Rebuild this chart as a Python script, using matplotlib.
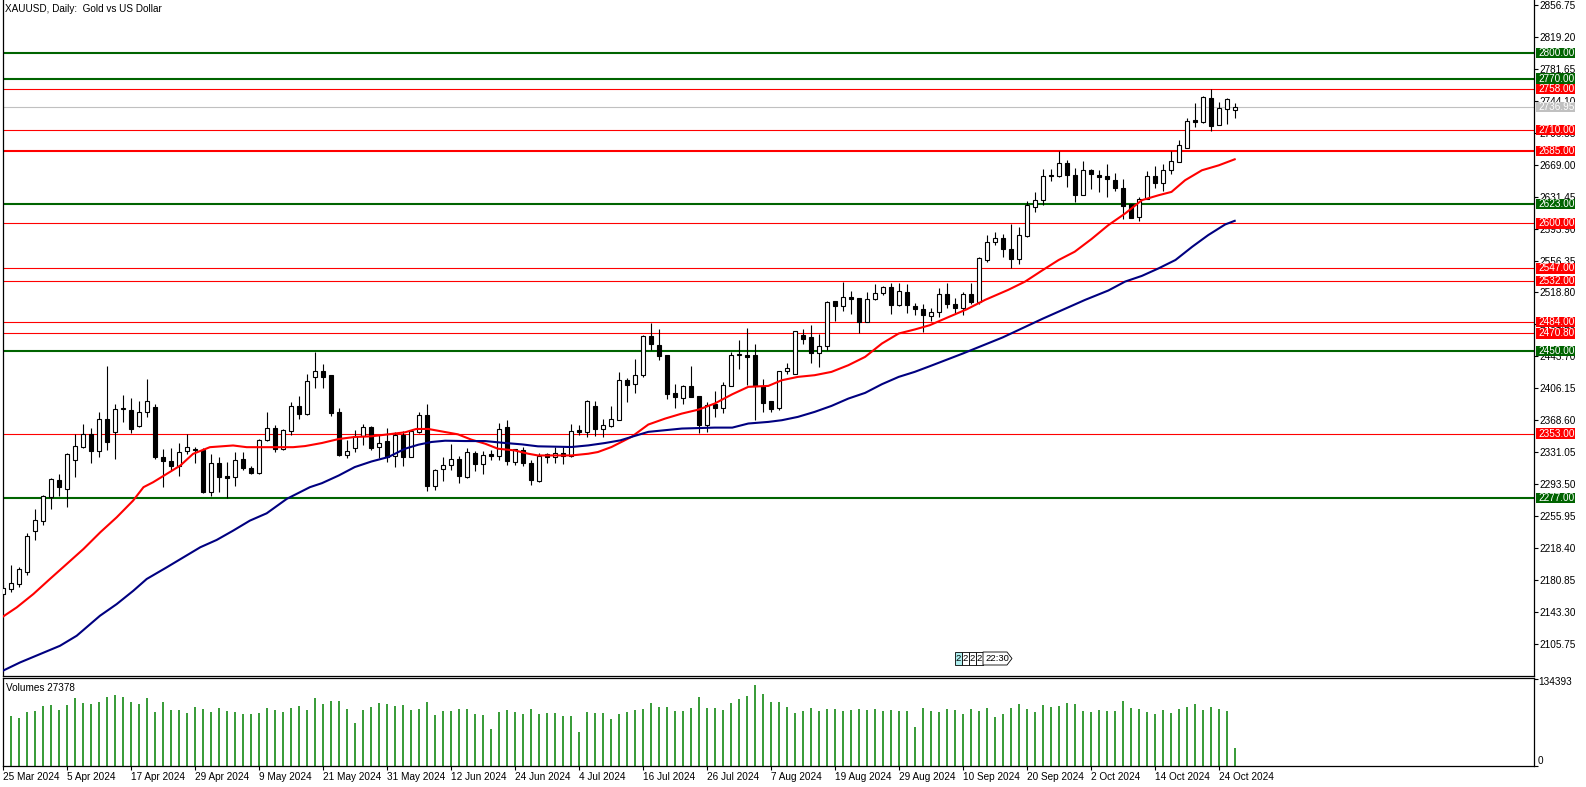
import matplotlib.pyplot as plt
from matplotlib.patches import Rectangle, Polygon
import matplotlib.transforms as mtransforms

plt.rcParams['font.family'] = ['Liberation Sans', 'DejaVu Sans']

# ---- data (daily bars, 25 Mar 2024 .. 28 Oct 2024) ----
opens = [2165, 2170.3, 2176.2, 2189.9, 2238.2, 2249.9, 2278.6, 2298.6, 2288.0, 2322.1,
         2337.0, 2351.9, 2332.3, 2370.4, 2355.1, 2382.0, 2380.9, 2362.1, 2377.8, 2384.5,
         2325.6, 2320.5, 2315.1, 2332.3, 2335.0, 2333.9, 2284.1, 2318.6, 2303.3, 2301.7,
         2323.3, 2313.1, 2306.4, 2345.6, 2359.8, 2335.1, 2355.8, 2384.9, 2376.5, 2418.9,
         2426.4, 2421.3, 2378.8, 2327.7, 2336.4, 2350.5, 2360.4, 2337.2, 2343.9, 2326.6,
         2350.9, 2325.4, 2354.8, 2375.3, 2291.2, 2311.6, 2316.3, 2323.4, 2301.8, 2330.5,
         2317.5, 2328.5, 2326.9, 2360.4, 2319.5, 2333.6, 2318.7, 2296.7, 2329.3, 2325.4,
         2330.5, 2326.6, 2356.8, 2354.8, 2385.1, 2358.8, 2361.9, 2369.4, 2415.7, 2411.8,
         2421.6, 2467.4, 2457.6, 2445.1, 2401.2, 2395.3, 2408.6, 2396.9, 2363.6, 2388.3,
         2383.6, 2409.0, 2445.5, 2445.9, 2445.1, 2409.0, 2391.0, 2383.2, 2427.1, 2423.5,
         2469.4, 2465.9, 2447.1, 2456.1, 2508.6, 2503.1, 2512.9, 2512.1, 2484.3, 2511.7,
         2517.6, 2524.7, 2503.5, 2519.9, 2502.7, 2499.9, 2491.7, 2496.0, 2516.8, 2505.0,
         2500.0, 2516.8, 2508.0, 2557.0, 2578.4, 2582.3, 2569.9, 2557.8, 2585.1, 2619.4,
         2628.0, 2657.3, 2655.7, 2671.3, 2657.3, 2633.9, 2663.1, 2657.3, 2656.1, 2650.7,
         2642.1, 2622.6, 2607.0, 2629.2, 2656.1, 2647.5, 2662.4, 2672.5, 2688.5, 2720.9,
         2718.6, 2747.5, 2715.8, 2734.6, 2733.8]
highs = [2175, 2198.5, 2196.6, 2235.8, 2264.4, 2280.9, 2300.2, 2304.9, 2329.6, 2351.9,
         2364.5, 2359.8, 2377.8, 2431.9, 2387.2, 2397.8, 2395.1, 2391.2, 2417.4, 2388.0,
         2335.1, 2336.2, 2341.7, 2351.9, 2337.0, 2335.5, 2328.4, 2326.0, 2320.1, 2331.1,
         2331.1, 2315.4, 2346.8, 2378.2, 2363.3, 2358.2, 2390.0, 2396.6, 2422.5, 2449.2,
         2434.7, 2422.1, 2383.6, 2345.0, 2357.6, 2364.7, 2361.5, 2351.7, 2360.0, 2354.8,
         2355.6, 2356.0, 2378.1, 2387.5, 2311.6, 2325.4, 2341.1, 2326.2, 2336.4, 2332.1,
         2332.4, 2333.2, 2365.5, 2368.6, 2335.2, 2337.2, 2321.4, 2330.5, 2330.1, 2337.2,
         2337.2, 2364.7, 2362.7, 2393.0, 2391.0, 2370.6, 2385.9, 2425.2, 2418.4, 2440.4,
         2468.6, 2483.1, 2475.7, 2445.5, 2411.8, 2410.6, 2432.2, 2397.3, 2390.2, 2402.8,
         2413.7, 2449.0, 2462.7, 2477.6, 2458.8, 2417.7, 2391.0, 2427.1, 2436.5, 2473.3,
         2476.4, 2480.4, 2469.8, 2509.0, 2509.0, 2530.9, 2520.3, 2512.5, 2519.2, 2528.2,
         2526.6, 2530.1, 2529.4, 2528.6, 2507.0, 2505.8, 2500.0, 2523.8, 2529.6, 2512.0,
         2519.1, 2529.6, 2560.9, 2586.3, 2589.4, 2587.4, 2599.1, 2596.0, 2626.5, 2637.0,
         2664.3, 2664.3, 2685.0, 2674.1, 2665.1, 2672.9, 2663.5, 2663.1, 2670.2, 2659.2,
         2652.2, 2623.0, 2631.1, 2661.6, 2667.1, 2670.2, 2685.0, 2697.5, 2724.0, 2741.2,
         2749.4, 2758.0, 2742.4, 2747.5, 2741.2]
lows = [2160, 2166.4, 2172.3, 2186.8, 2228.0, 2245.6, 2264.4, 2279.3, 2266.4, 2301.7,
        2336.0, 2318.2, 2325.2, 2333.1, 2323.3, 2366.4, 2353.5, 2360.5, 2372.3, 2323.3,
        2290.0, 2309.6, 2303.7, 2328.4, 2318.2, 2283.0, 2280.2, 2284.1, 2277.0, 2291.1,
        2309.6, 2305.6, 2305.6, 2344.8, 2331.1, 2333.1, 2351.1, 2370.4, 2375.3, 2406.8,
        2406.0, 2373.7, 2326.6, 2324.2, 2331.3, 2339.1, 2333.6, 2324.2, 2319.5, 2313.6,
        2314.8, 2325.0, 2353.7, 2285.3, 2286.1, 2297.1, 2309.6, 2294.7, 2301.0, 2308.9,
        2305.7, 2322.2, 2321.4, 2315.9, 2316.3, 2314.8, 2292.7, 2295.9, 2318.7, 2318.7,
        2317.5, 2325.8, 2350.9, 2349.0, 2349.8, 2349.0, 2360.4, 2368.6, 2389.8, 2400.8,
        2419.6, 2451.0, 2440.0, 2394.1, 2383.2, 2388.3, 2395.5, 2353.8, 2355.0, 2372.6,
        2377.3, 2408.6, 2429.0, 2410.6, 2368.7, 2378.5, 2378.5, 2380.4, 2423.5, 2423.5,
        2458.8, 2436.1, 2431.4, 2451.0, 2485.1, 2497.2, 2493.3, 2471.3, 2484.0, 2510.5,
        2515.6, 2493.3, 2503.0, 2494.1, 2492.1, 2472.5, 2485.0, 2490.0, 2500.0, 2495.0,
        2492.0, 2505.0, 2505.0, 2555.0, 2574.5, 2560.9, 2547.2, 2551.9, 2584.3, 2613.6,
        2621.4, 2649.5, 2654.6, 2642.8, 2624.9, 2633.5, 2640.9, 2637.0, 2631.1, 2637.8,
        2604.6, 2605.8, 2603.0, 2628.8, 2642.1, 2638.2, 2658.5, 2672.0, 2688.0, 2713.1,
        2718.0, 2708.4, 2715.1, 2717.0, 2724.0]
closes = [2171, 2177.4, 2193.8, 2232.7, 2251.5, 2279.7, 2299.8, 2290.0, 2329.2, 2338.6,
          2351.9, 2332.3, 2370.4, 2342.9, 2382.1, 2382.6, 2358.6, 2378.6, 2391.5, 2325.2,
          2320.5, 2314.7, 2331.5, 2337.4, 2334.0, 2284.1, 2318.6, 2301.7, 2300.9, 2322.1,
          2312.7, 2306.4, 2346.0, 2359.8, 2335.1, 2357.4, 2385.7, 2376.2, 2414.5, 2426.4,
          2419.7, 2377.7, 2327.7, 2332.8, 2350.5, 2361.2, 2336.0, 2342.3, 2325.4, 2350.9,
          2325.4, 2355.6, 2375.3, 2291.2, 2309.6, 2315.5, 2323.4, 2302.9, 2331.7, 2317.5,
          2328.1, 2326.9, 2358.8, 2320.6, 2334.4, 2318.3, 2297.9, 2326.9, 2325.4, 2330.5,
          2326.6, 2355.6, 2354.8, 2391.0, 2358.8, 2363.5, 2370.6, 2415.6, 2410.6, 2422.4,
          2468.2, 2458.4, 2444.3, 2399.2, 2396.1, 2409.0, 2396.1, 2363.6, 2386.3, 2383.6,
          2410.6, 2445.9, 2447.0, 2443.1, 2409.0, 2389.1, 2382.4, 2427.1, 2430.6, 2473.3,
          2463.9, 2447.1, 2456.1, 2507.4, 2503.1, 2512.9, 2511.3, 2483.9, 2511.7, 2517.6,
          2524.7, 2503.5, 2521.1, 2503.5, 2498.8, 2492.1, 2495.6, 2516.8, 2505.0, 2500.0,
          2516.8, 2508.0, 2558.9, 2577.7, 2582.3, 2569.5, 2557.8, 2585.9, 2621.4, 2628.0,
          2656.1, 2655.7, 2671.3, 2657.3, 2633.9, 2663.1, 2658.5, 2654.6, 2652.2, 2642.1,
          2621.0, 2606.9, 2629.2, 2655.7, 2647.9, 2662.4, 2673.7, 2692.4, 2720.5, 2719.0,
          2749.0, 2714.3, 2735.7, 2746.3, 2736.95]

volumes = [80000, 77478, 74400, 83635, 85175, 92871, 94410, 86714, 94410, 105186,
           97489, 95950, 99028, 106725, 109803, 106725, 99028, 95950, 105186, 83635,
           99028, 86714, 86714, 82096, 91332, 88253, 83635, 89793, 85175, 83635,
           80557, 80557, 82096, 89793, 86714, 83635, 89793, 92871, 86714, 105186,
           95950, 100568, 100568, 88253, 66703, 86714, 91332, 97489, 95950, 92871,
           94410, 86714, 88253, 99028, 79017, 85175, 85175, 88253, 88253, 80557,
           79017, 57467, 83635, 86714, 83635, 80557, 88253, 80557, 82096, 82096,
           77478, 77478, 52849, 83635, 82096, 82096, 72860, 80557, 83635, 86714,
           88253, 97489, 91332, 91332, 85175, 85175, 89793, 106725, 89793, 89793,
           86714, 97489, 103646, 108264, 125196, 111343, 99028, 99028, 91332, 82096,
           85175, 89793, 85175, 88253, 88253, 85175, 86714, 88253, 86714, 88253,
           85175, 86714, 85175, 85175, 60546, 89793, 85175, 83635, 88253, 86714,
           80557, 88253, 85175, 89793, 75939, 80044, 89279, 95437, 87740, 83122,
           93897, 90819, 92358, 96976, 95437, 84662, 83122, 86201, 84662, 84662,
           100055, 89279, 87740, 83122, 80044, 86201, 81583, 87740, 90819, 95437,
           86201, 90819, 87740, 84662, 27378]

# moving averages, sampled along the drawn lines (bar index, price)
ma_fast_idx = [0, 1.75, 3.83, 5.9, 8.0, 10.1, 12.2, 14.25, 16.3, 17.6, 18.8, 20.5, 22.2, 23.8,
               25.9, 28.8, 30.5, 33.0, 36.3, 37.8, 39.9, 42.0, 44.0, 46.1, 48.2, 50.3, 51.7,
               53.2, 55.3, 56.9, 58.6, 60.3, 61.9, 64.0, 65.7, 66.9, 71.1, 73.2, 74.4, 76.1,
               78.6, 80.7, 82.8, 84.9, 87.0, 89.0, 91.2, 93.2, 95.7, 97.4, 99.4, 101.5, 103.6,
               105.7, 107.8, 109.9, 112.0, 114.0, 115.9, 118.0, 120.5, 122.8, 125.7, 127.8,
               129.9, 132.0, 134.0, 136.1, 138.2, 140.3, 142.4, 144.5, 146.1, 147.8, 149.9,
               152.0, 154.0]
ma_fast_val = [2137.7, 2148.7, 2164.4, 2182.1, 2199.7, 2217.4, 2237.0, 2254.6, 2274.2, 2290.0,
               2295.8, 2305.6, 2315.4, 2329.2, 2337.0, 2339.0, 2337.0, 2337.0, 2337.0, 2338.3,
               2341.9, 2346.6, 2349.0, 2349.8, 2352.1, 2354.5, 2358.4, 2358.4, 2354.8, 2352.1,
               2345.8, 2341.1, 2335.2, 2333.2, 2329.3, 2327.3, 2327.3, 2329.3, 2331.3, 2337.2,
               2349.1, 2363.6, 2370.6, 2376.5, 2381.2, 2388.3, 2399.2, 2407.9, 2409.0, 2415.7,
               2419.6, 2421.6, 2425.5, 2433.3, 2443.1, 2458.8, 2470.6, 2475.3, 2480.4, 2489.0,
               2499.0, 2510.1, 2521.9, 2531.6, 2544.5, 2557.0, 2566.7, 2581.6, 2597.9, 2611.6,
               2627.3, 2633.1, 2637.0, 2650.7, 2662.4, 2668.2, 2675.3]
ma_slow_idx = [0, 2.16, 4.66, 7.16, 9.25, 12.16, 14.25, 16.33, 18.0, 20.5, 22.6, 24.7, 26.75,
               28.8, 30.9, 33.0, 35.5, 38.4, 39.9, 42.0, 44.0, 46.1, 48.2, 50.3, 51.95, 53.6,
               55.3, 57.8, 60.3, 62.8, 64.9, 66.9, 71.1, 73.2, 75.3, 77.2, 78.6, 80.7, 84.9,
               89.0, 91.2, 93.2, 95.7, 97.4, 99.4, 101.5, 103.6, 105.7, 107.8, 109.9, 112.0,
               114.0, 115.9, 120.0, 125.0, 130.0, 135.3, 138.2, 140.3, 142.4, 144.5, 146.6,
               148.7, 150.7, 152.8, 154.0]
ma_slow_val = [2074.2, 2084.0, 2093.8, 2103.6, 2115.4, 2138.9, 2152.6, 2168.3, 2182.1, 2195.8,
               2207.6, 2219.4, 2228.0, 2238.9, 2250.7, 2259.3, 2276.2, 2290.0, 2294.7, 2303.7,
               2313.6, 2320.2, 2325.4, 2335.2, 2339.9, 2343.1, 2344.6, 2344.2, 2344.2, 2341.9,
               2340.3, 2338.0, 2337.2, 2339.1, 2341.9, 2345.0, 2349.1, 2355.0, 2358.9, 2360.0,
               2360.0, 2364.8, 2366.7, 2368.7, 2372.6, 2378.5, 2385.5, 2394.1, 2400.8, 2411.0,
               2419.6, 2425.5, 2432.2, 2447.0, 2466.0, 2488.0, 2510.1, 2521.1, 2531.6, 2538.3,
               2547.2, 2557.0, 2572.6, 2586.3, 2598.7, 2603.0]

green_levels = [2800.00, 2770.00, 2623.00, 2450.00, 2277.00]
red_levels = [2758.00, 2710.00, 2685.00, 2600.00, 2547.00, 2532.00, 2484.00, 2470.80, 2353.00]
last_price = 2736.95

date_labels = ['25 Mar 2024', '5 Apr 2024', '17 Apr 2024', '29 Apr 2024', '9 May 2024',
               '21 May 2024', '31 May 2024', '12 Jun 2024', '24 Jun 2024', '4 Jul 2024',
               '16 Jul 2024', '26 Jul 2024', '7 Aug 2024', '19 Aug 2024', '29 Aug 2024',
               '10 Sep 2024', '20 Sep 2024', '2 Oct 2024', '14 Oct 2024', '24 Oct 2024']
price_ticks = [2105.75 + 37.55 * k for k in range(21)]
vol_max = 134393

# ---- layout ----
W, H = 1586, 787
fig = plt.figure(figsize=(W / 100, H / 100), dpi=100)
ax = fig.add_axes([2.5 / W, 1 - 676 / H, 1531 / W, 676 / H])
axv = fig.add_axes([2.5 / W, 1 - 766 / H, 1531 / W, 88 / H])

n = len(opens)
idx = list(range(n))

# levels
for lv in green_levels:
    ax.axhline(lv, color='#006400', lw=1.5, zorder=1)
for lv in red_levels:
    ax.axhline(lv, color='#ff0000', lw=1.5 if lv == 2685.00 else 0.8, zorder=1)
ax.axhline(last_price, color='#c0c0c0', lw=0.8, zorder=1)

# candles
ax.vlines(idx, lows, highs, color='black', lw=0.8, zorder=3)
bots = [min(o, c) for o, c in zip(opens, closes)]
hts = [max(abs(c - o), 0.3) for o, c in zip(opens, closes)]
faces = ['white' if c >= o else 'black' for o, c in zip(opens, closes)]
ax.bar(idx, hts, bottom=bots, width=0.5, color=faces, edgecolor='black', linewidth=0.8, zorder=4)

# moving averages
ax.plot(ma_fast_idx, ma_fast_val, color='#ff0000', lw=1.5, zorder=5)
ax.plot(ma_slow_idx, ma_slow_val, color='#000080', lw=1.5, zorder=5)

ax.set_xlim(-0.025, 191.35)
ax.set_ylim(2068.1, 2862.5)
ax.set_xticks([])
ax.yaxis.tick_right()
ax.set_yticks(price_ticks)
ax.set_yticklabels(['%.2f' % p for p in price_ticks])
ax.tick_params(axis='y', length=3, width=0.8, pad=1, labelsize=7.2)
ax.spines['top'].set_visible(False)
for s in ['left', 'right', 'bottom']:
    ax.spines[s].set_linewidth(0.9)

# level labels on the price scale
tr = mtransforms.blended_transform_factory(fig.transFigure, ax.transData)
box_h = 10.5 / 0.851
labels = [(lv, '#006400') for lv in green_levels] + [(lv, '#ff0000') for lv in red_levels] + [(last_price, '#c0c0c0')]
for lv, col in labels:
    ax.add_patch(Rectangle((1536 / W, lv - box_h / 2), 39 / W, box_h, transform=tr,
                           facecolor=col, edgecolor='none', clip_on=False, zorder=10))
    ax.text(1538 / W, lv, '%.2f' % lv, transform=tr, color='white', fontsize=7.2,
            va='center', ha='left', clip_on=False, zorder=11)

# volumes
axv.vlines(idx, 0, volumes, color='#008000', lw=1.1)
axv.set_xlim(-0.025, 191.35)
axv.set_ylim(0, 135467)
axv.yaxis.tick_right()
axv.set_yticks([0, vol_max])
axv.set_yticklabels([])
axv.tick_params(axis='y', length=3, width=0.8)
axv.set_xticks([8 * k for k in range(len(date_labels))])
axv.set_xticklabels(date_labels)
for lbl in axv.get_xticklabels():
    lbl.set_ha('left')
axv.tick_params(axis='x', length=3, width=0.8, pad=1, labelsize=7.2)
for s in axv.spines.values():
    s.set_linewidth(0.9)
fig.text(1538 / W, 1 - 682 / H, '134393', fontsize=7.2, va='center')
fig.text(1538 / W, 1 - 761 / H, '0', fontsize=7.2, va='center')

fig.text(5 / W, 1 - 9 / H, 'XAUUSD, Daily:  Gold vs US Dollar', fontsize=7.2, va='center')
fig.text(6 / W, 1 - 688 / H, 'Volumes 27378', fontsize=7.2, va='center')

# event markers at the bottom of the price window
def px(x, y):
    return (x / W, 1 - y / H)

for k, bx in enumerate([955, 962, 969, 976]):
    fig.add_artist(Rectangle(px(bx, 665), 7 / W, 13 / H, transform=fig.transFigure,
                             facecolor='#aeeeee' if k == 0 else 'white', edgecolor='black', lw=0.6))
    fig.text((bx + 3.5) / W, 1 - 658.5 / H, '2', fontsize=6.8, ha='center', va='center')
tag = [px(983, 652), px(1007, 652), px(1012, 658.5), px(1007, 665), px(983, 665)]
fig.add_artist(Polygon(tag, closed=True, transform=fig.transFigure, facecolor='white', edgecolor='black', lw=0.6))
fig.text(985 / W, 1 - 658.5 / H, '22:30', fontsize=6.8, ha='left', va='center')

fig.savefig('out.png', dpi=100)
